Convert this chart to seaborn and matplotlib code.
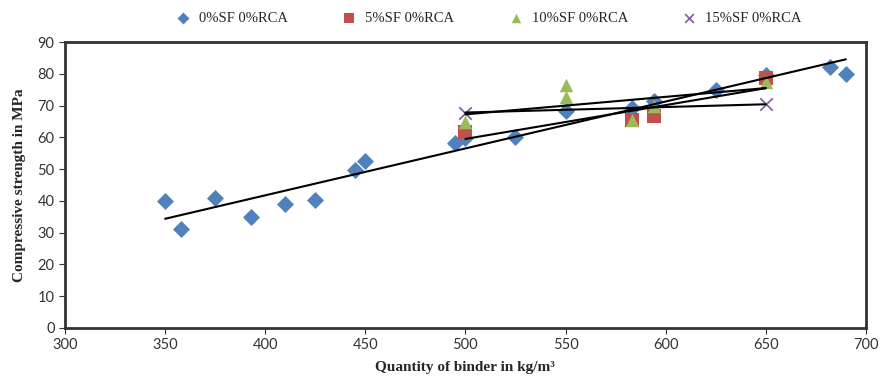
import numpy as np
import pandas as pd
import seaborn as sns
import matplotlib.pyplot as plt

# binder quantity (kg/m3) and compressive strength (MPa) per mix
sf0_x = [350, 358, 375, 393, 410, 425, 445, 450, 495, 500, 525, 550, 583, 594, 625, 650, 682, 690]
sf0_y = [40, 31, 40.8, 35, 39, 40.2, 49.6, 52.4, 58.2, 59.8, 60.2, 68.3, 69.3, 71.3, 75, 79.5, 82.2, 80]
sf5_x = [500, 583, 594, 650]
sf5_y = [61.8, 65.6, 66.6, 78.8]
sf10_x = [500, 550, 550, 583, 594, 650]
sf10_y = [64.8, 76.5, 72.6, 65.6, 70, 77.4]
sf15_x = [500, 650]
sf15_y = [67.8, 70.4]

labels = ["0%SF 0%RCA", "5%SF 0%RCA", "10%SF 0%RCA", "15%SF 0%RCA"]
colors = ["#4F81BD", "#C0504D", "#9BBB59", "#8064A2"]
markers = ["D", "s", "^", "x"]
xs = [sf0_x, sf5_x, sf10_x, sf15_x]
ys = [sf0_y, sf5_y, sf10_y, sf15_y]

df = pd.concat([pd.DataFrame({"binder": x, "strength": y, "mix": lab})
                for x, y, lab in zip(xs, ys, labels)], ignore_index=True)

sns.set_style("white")
plt.rcParams['font.family'] = ['Lato', 'DejaVu Sans']

fig = plt.figure(figsize=(8.82, 3.89), dpi=100)
ax = fig.add_axes([0.0737, 0.157, 0.908, 0.735])

sizes = {"0%SF 0%RCA": 75, "5%SF 0%RCA": 95, "10%SF 0%RCA": 95, "15%SF 0%RCA": 80}
for lab, col, mk in zip(labels, colors, markers):
    sub = df[df["mix"] == lab]
    sns.scatterplot(data=sub, x="binder", y="strength", color=col, marker=mk,
                    s=sizes[lab], linewidth=1.3 if mk == "x" else 0,
                    label=lab, ax=ax, zorder=3)

# linear trend lines (Excel style), one per mix
for lab in labels:
    sub = df[df["mix"] == lab]
    sns.regplot(data=sub, x="binder", y="strength", scatter=False, ci=None,
                color="black", line_kws={"linewidth": 1.5, "zorder": 4}, ax=ax)

ax.set_xlim(300, 700)
ax.set_ylim(0, 90)
ax.set_xticks(np.arange(300, 701, 50))
ax.set_yticks(np.arange(0, 91, 10))
ax.tick_params(axis="both", labelsize=10.5, colors="#333333", length=4,
               direction="out", bottom=True, left=True)
for sp in ax.spines.values():
    sp.set_color("#333333")
    sp.set_linewidth(2)

ax.set_xlabel("Quantity of binder in kg/m³", family=["Liberation Serif"],
              fontsize=11, fontweight="bold", labelpad=6)
ax.set_ylabel("Compressive strength in MPa", family=["Liberation Serif"],
              fontsize=11, fontweight="bold", labelpad=8)

h, l = ax.get_legend_handles_labels()
ax.legend_.remove()
fig.legend(h, l, loc="center", bbox_to_anchor=(0.55, 0.953), ncol=4, frameon=False,
           prop={"family": "Liberation Serif", "size": 10.5}, handletextpad=0.1,
           columnspacing=3.2, markerscale=0.7)

fig.savefig("out.png", dpi=100)
